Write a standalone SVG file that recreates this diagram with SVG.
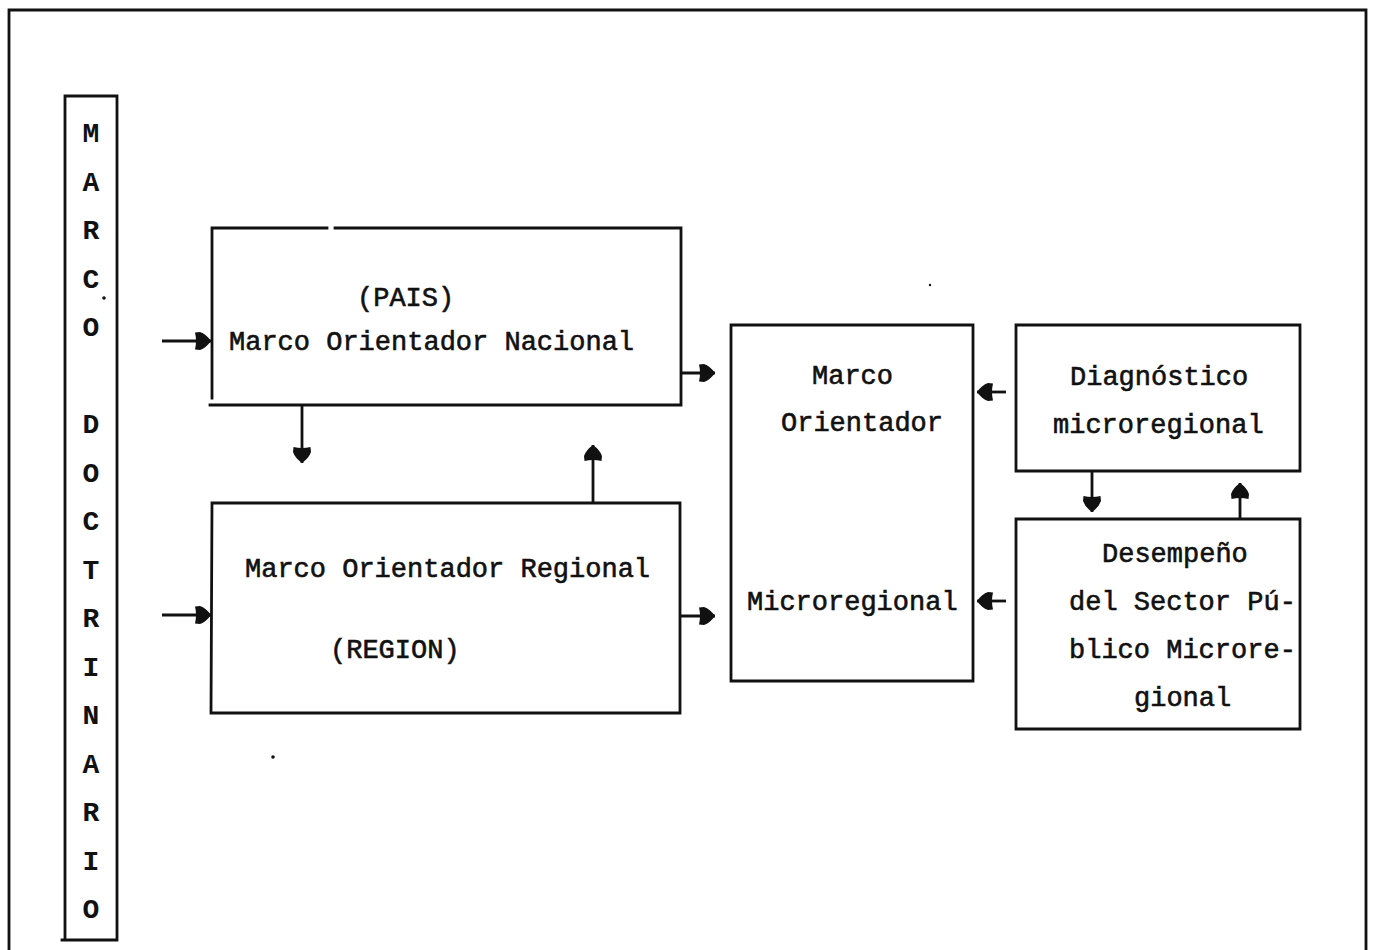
<svg xmlns="http://www.w3.org/2000/svg" width="1376" height="950" viewBox="0 0 1376 950">
<style>
.ln{stroke:#111;stroke-width:2.8;fill:none;stroke-linecap:square}
.t{font-family:"Liberation Mono","DejaVu Sans Mono",monospace;font-size:27px;fill:#111;stroke:#111;stroke-width:0.6}
.v{font-family:"Liberation Mono","DejaVu Sans Mono",monospace;font-size:28px;font-weight:bold;fill:#111;text-anchor:middle}
.cn{stroke:#111;stroke-width:2.8;fill:none}
</style>
<defs>
<marker id="ah" markerUnits="userSpaceOnUse" markerWidth="22" markerHeight="22" refX="16" refY="9" orient="auto">
<path d="M0,0.5 L5,0 Q11,2 16,9 Q11,16 5,18 L0,17.5 Q2,9 0,0.5 Z" fill="#111"/>
</marker>
</defs>
<rect width="1376" height="950" fill="#fff"/>
<g id="frame">
<path class="ln" d="M9,950 V10 H1366 V950"/>
</g>
<g id="marco-doctrinario">
<path class="ln" d="M65,940 V96 H117 V940 M62,940 H117"/>
<text class="v" x="91" y="142">M</text>
<text class="v" x="91" y="191">A</text>
<text class="v" x="91" y="239">R</text>
<text class="v" x="91" y="288">C</text>
<text class="v" x="91" y="336">O</text>
<text class="v" x="91" y="433">D</text>
<text class="v" x="91" y="482">O</text>
<text class="v" x="91" y="530">C</text>
<text class="v" x="91" y="579">T</text>
<text class="v" x="91" y="627">R</text>
<text class="v" x="91" y="676">I</text>
<text class="v" x="91" y="724">N</text>
<text class="v" x="91" y="773">A</text>
<text class="v" x="91" y="821">R</text>
<text class="v" x="91" y="870">I</text>
<text class="v" x="91" y="918">O</text>
</g>
<g id="nacional">
<path class="ln" d="M212,398 V228 H327 M335,228 H681 V405 H210"/>
<text class="t" x="357" y="306">(PAIS)</text>
<text class="t" x="229" y="350">Marco Orientador Nacional</text>
</g>
<g id="regional">
<path class="ln" d="M212,503 H680 V713 H211 Z"/>
<text class="t" x="245" y="577">Marco Orientador Regional</text>
<text class="t" x="330" y="658">(REGION)</text>
</g>
<g id="microregional">
<path class="ln" d="M731,325 H973 V681 H731 Z"/>
<text class="t" x="812" y="384">Marco</text>
<text class="t" x="781" y="431">Orientador</text>
<text class="t" x="747" y="610">Microregional</text>
</g>
<g id="diagnostico">
<path class="ln" d="M1016,325 H1300 V471 H1016 Z"/>
<text class="t" x="1070" y="385">Diagnóstico</text>
<text class="t" x="1053" y="433">microregional</text>
</g>
<g id="desempeno">
<path class="ln" d="M1016,519 H1300 V729 H1016 Z"/>
<text class="t" x="1102" y="562">Desempeño</text>
<text class="t" x="1069" y="610">del Sector Pú-</text>
<text class="t" x="1069" y="658">blico Microre-</text>
<text class="t" x="1134" y="706">gional</text>
</g>
<g id="connectors">
<path class="cn" d="M162,341 H211" marker-end="url(#ah)"/>
<path class="cn" d="M162,615 H211" marker-end="url(#ah)"/>
<path class="cn" d="M302,405 V463" marker-end="url(#ah)"/>
<path class="cn" d="M593,503 V445" marker-end="url(#ah)"/>
<path class="cn" d="M681,373 H715" marker-end="url(#ah)"/>
<path class="cn" d="M680,616 H715" marker-end="url(#ah)"/>
<path class="cn" d="M1006,392 H977" marker-end="url(#ah)"/>
<path class="cn" d="M1006,601 H977" marker-end="url(#ah)"/>
<path class="cn" d="M1092,471 V512" marker-end="url(#ah)"/>
<path class="cn" d="M1240,519 V483" marker-end="url(#ah)"/>
</g>
<g id="specks" fill="#111">
<circle cx="104" cy="298" r="1.8"/>
<circle cx="273" cy="757" r="1.8"/>
<circle cx="930" cy="285" r="1.2"/>
</g>
</svg>
